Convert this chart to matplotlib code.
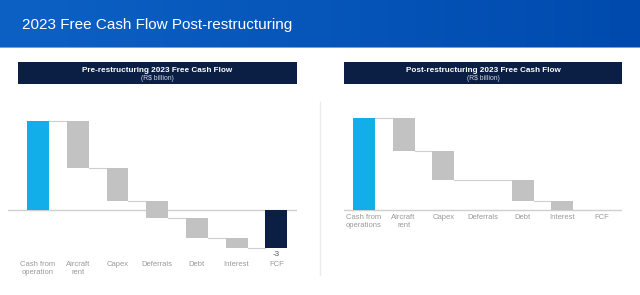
import numpy as np
import matplotlib.pyplot as plt
from matplotlib.transforms import blended_transform_factory
from matplotlib.patches import Rectangle

plt.rcParams['font.family'] = ['Liberation Sans', 'DejaVu Sans']

# data (R$ billion)
pre_labels = ['Cash from\noperation', 'Aircraft\nrent', 'Capex', 'Deferrals', 'Debt', 'Interest', 'FCF']
pre_steps = [7.0, -3.7, -2.6, -1.3, -1.6, -0.8]

post_labels = ['Cash from\noperations', 'Aircraft\nrent', 'Capex', 'Deferrals', 'Debt', 'Interest', 'FCF']
post_steps = [7.0, -2.5, -2.2, 0.0, -1.6, -0.7]

W, H = 640, 295
BLUE = '#12aeea'
GREY = '#c2c2c2'
NAVY = '#0b1f45'
LINE = '#cfcfcf'
TXT = '#9a9a9a'

fig = plt.figure(figsize=(W / 100, H / 100), dpi=100)


def px(x0, y0, x1, y1):
    # pixel box (top-left origin) -> figure fraction rect
    return [x0 / W, 1 - y1 / H, (x1 - x0) / W, (y1 - y0) / H]


# title bar with a blue gradient
bg = fig.add_axes(px(0, 0, W, 47))
grad = np.linspace(0, 1, 256).reshape(1, -1)
c0 = np.array([0.05, 0.38, 0.77])
c1 = np.array([0.0, 0.29, 0.68])
img = c0 + (c1 - c0) * grad[..., None]
bg.imshow(img, aspect='auto', extent=[0, 1, 0, 1])
bg.set_axis_off()
fig.add_artist(Rectangle((0, 1 - 48 / H), 1, 1.2 / H, transform=fig.transFigure,
                         color='#6fa3e0', lw=0))
fig.text(22 / W, 1 - 29 / H, '2023 Free Cash Flow Post-restructuring', color='white',
         fontsize=11.0, va='baseline', ha='left')

# thin separator between the panels
fig.add_artist(plt.Line2D([320 / W, 320 / W], [1 - 102 / H, 1 - 275 / H],
                          transform=fig.transFigure, color='#ececec', lw=1))


def header(x0, x1, title):
    fig.add_artist(Rectangle((x0 / W, 1 - 84 / H), (x1 - x0) / W, 22 / H,
                             transform=fig.transFigure, color=NAVY, lw=0))
    xc = (x0 + x1) / 2 / W
    fig.text(xc, 1 - 70 / H, title, color='white', fontsize=5.9, fontweight='bold',
             ha='center', va='center')
    fig.text(xc, 1 - 79 / H, '(R$ billion)', color='#d0d4dc', fontsize=4.9,
             ha='center', va='center')


def waterfall(ax, steps, labels, label_y, show_total):
    n = len(steps)
    hw = 0.275
    run = 0.0
    levels = []
    for i, v in enumerate(steps):
        bottom = run if i > 0 else 0
        color = BLUE if i == 0 else GREY
        ax.bar(i, v, bottom=bottom, width=2 * hw, color=color, lw=0)
        run = run + v if i > 0 else v
        levels.append(run)
    total = run
    ax.bar(n, total, width=2 * hw, color=NAVY, lw=0)
    for i, lv in enumerate(levels):
        x_start = i + hw if steps[i] != 0 else i - hw
        ax.plot([x_start, i + 1 - hw], [lv, lv], color=LINE, lw=0.8, zorder=0)
    ax.axhline(0, color=LINE, lw=1, zorder=0)
    tr = blended_transform_factory(ax.transData, fig.transFigure)
    for i, lab in enumerate(labels):
        ax.text(i, 1 - label_y / H, lab, transform=tr, ha='center', va='top',
                fontsize=5.5, color=TXT, linespacing=1.2)
    if show_total:
        ax.text(n, 1 - 254 / H, '%g' % round(total), transform=tr, ha='center',
                va='center', fontsize=5.8, color='#555555')
    ax.set_axis_off()


# left panel
header(18, 297, 'Pre-restructuring 2023 Free Cash Flow')
axl = fig.add_axes(px(8, 105, 297, 255))
waterfall(axl, pre_steps, pre_labels, 261, True)
axl.set_xlim(-0.755, 6.52)
axl.set_ylim(-45 / 12.7, 105 / 12.7)

# right panel
header(344, 622, 'Post-restructuring 2023 Free Cash Flow')
axr = fig.add_axes(px(344, 105, 622, 255))
waterfall(axr, post_steps, post_labels, 214, False)
axr.set_xlim(-0.504, 6.504)
axr.set_ylim(-45 / 13.19, 105 / 13.19)

fig.savefig('out.png', dpi=100)
